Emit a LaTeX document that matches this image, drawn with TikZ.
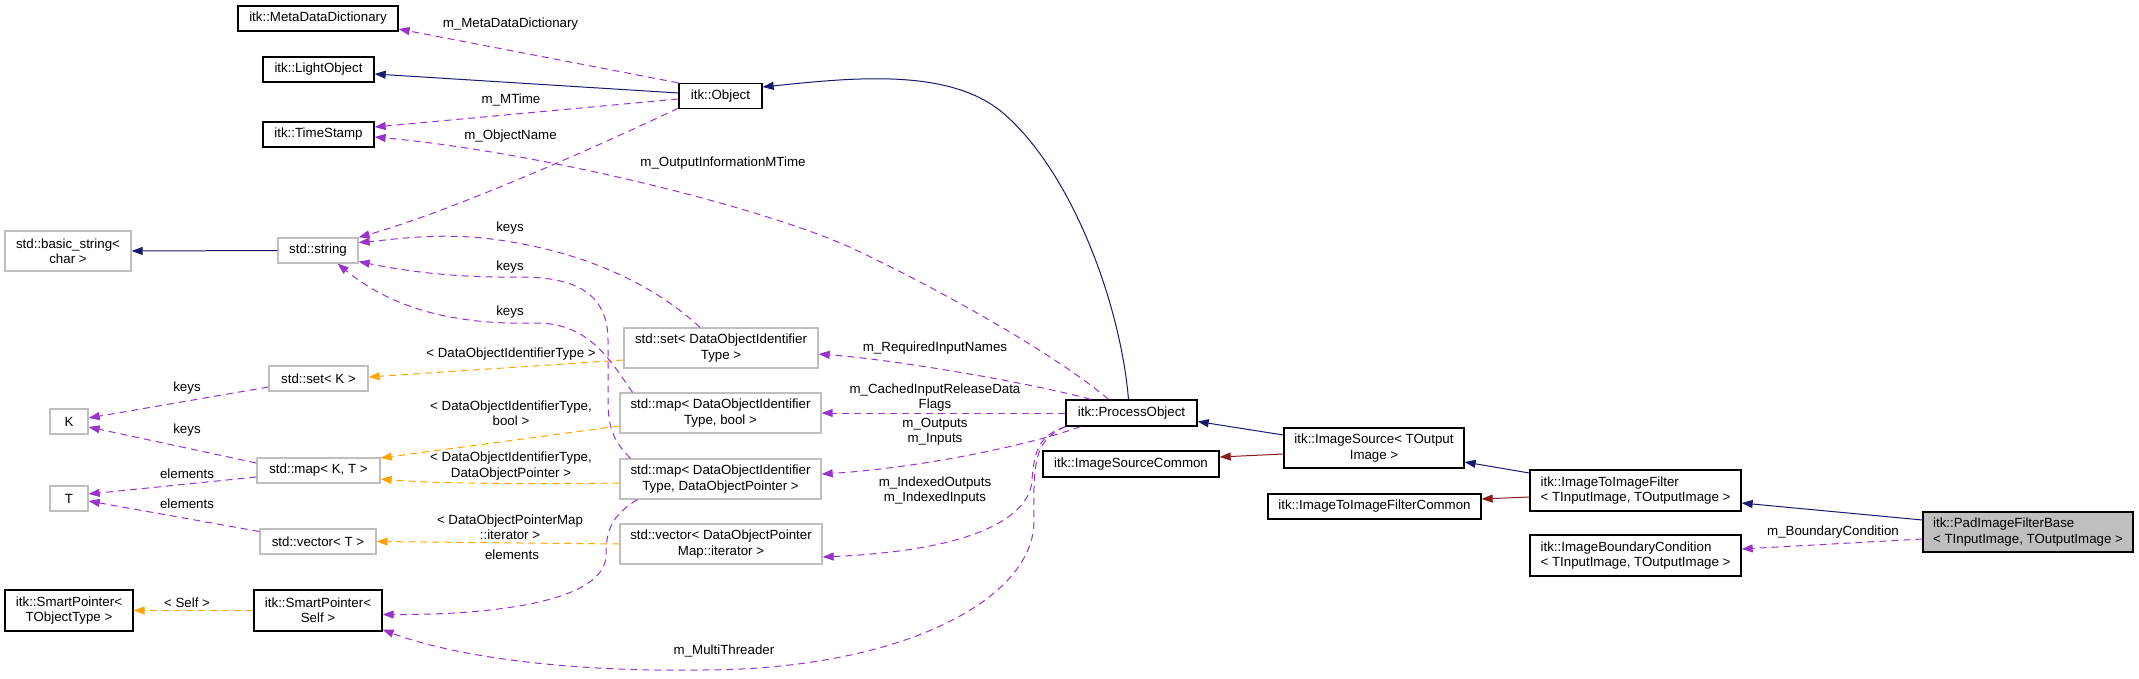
\documentclass[tikz,border=0pt]{standalone}
\usepackage{fontspec}
\setmainfont{Liberation Sans}
\usepackage{tikz}
\usetikzlibrary{arrows.meta}
\definecolor{navyedge}{HTML}{191970}
\definecolor{redge}{HTML}{8B1A1A}
\definecolor{purpedge}{HTML}{9A32CD}
\definecolor{orgedge}{HTML}{FFA500}
\definecolor{extgray}{HTML}{BFBFBF}

\begin{document}
\begin{tikzpicture}[x=1pt,y=-1pt,font=\fontsize{13.3}{15.2}\selectfont,
doc/.style n args={2}{draw=black,line width=1.3pt,fill=white,minimum width=#1pt,minimum height=#2pt,inner sep=0pt,align=center},
ext/.style n args={2}{doc={#1}{#2},draw=extgray},
inh/.style={navyedge,line width=1pt,-{Triangle[length=11pt,width=8pt]}},
prot/.style={inh,redge},
usage/.style={purpedge,line width=1pt,dash pattern=on 7pt off 5pt,-{Triangle[length=11pt,width=8pt]}},
tpl/.style={usage,orgedge},
lbl/.style={inner sep=0pt,align=center}]
\useasboundingbox (0,0) rectangle (2139,678);
\node[doc={160}{25}] (mdd) at (318,18.5) {itk::MetaDataDictionary};
\node[doc={111}{25}] (lobj) at (318.5,69.5) {itk::LightObject};
\node[doc={111}{25}] (tstamp) at (318.5,134.5) {itk::TimeStamp};
\node[doc={83}{25}] (obj) at (720.5,96) {itk::Object};
\node[ext={126}{40}] (bstr) at (68,251) {std::basic\_string<\\char >};
\node[ext={80}{25}] (str) at (318,250.5) {std::string};
\node[ext={99}{25}] (setk) at (318.5,378.5) {std::set< K >};
\node[ext={38}{25}] (kk) at (69,421.5) {K};
\node[ext={123}{25}] (mapkt) at (318.5,470.5) {std::map< K, T >};
\node[ext={38}{25}] (tt) at (69,498.5) {T};
\node[ext={116}{25}] (vect) at (318,541.5) {std::vector< T >};
\node[doc={128}{41}] (sptobj) at (69,610.5) {itk::SmartPointer<\\TObjectType >};
\node[doc={128}{41}] (spself) at (318,610.5) {itk::SmartPointer<\\Self >};
\node[ext={194}{40}] (setdoi) at (721,348) {std::set< DataObjectIdentifier\\Type >};
\node[ext={201}{40}] (mapbool) at (720.5,413) {std::map< DataObjectIdentifier\\Type, bool >};
\node[ext={201}{40}] (mapdop) at (720.5,479) {std::map< DataObjectIdentifier\\Type, DataObjectPointer >};
\node[ext={202}{40}] (vecdop) at (721,544) {std::vector< DataObjectPointer\\Map::iterator >};
\node[doc={131}{26}] (procobj) at (1131.5,413) {itk::ProcessObject};
\node[doc={176}{26}] (iscommon) at (1131,464) {itk::ImageSourceCommon};
\node[doc={180}{40}] (isrc) at (1374,448) {itk::ImageSource< TOutput\\Image >};
\node[doc={213}{25}] (itifcommon) at (1374.5,506.5) {itk::ImageToImageFilterCommon};
\node[doc={211}{41},align=left] (itif) at (1635.5,490.5) {itk::ImageToImageFilter\\< TInputImage, TOutputImage >};
\node[doc={211}{41},align=left] (ibc) at (1635.5,555.5) {itk::ImageBoundaryCondition\\< TInputImage, TOutputImage >};
\node[doc={210}{40},align=left,fill=extgray] (pad) at (2028,532) {itk::PadImageFilterBase\\< TInputImage, TOutputImage >};
% labels
\node[lbl] (lmdd) at (510.5,24) {m\_MetaDataDictionary};
\node[lbl] (lmtime) at (511,100) {m\_MTime};
\node[lbl] (lobjname) at (510.5,136) {m\_ObjectName};
\node[lbl] (loutinfo) at (723,163) {m\_OutputInformationMTime};
\node[lbl] (lkeysa) at (510,228) {keys};
\node[lbl] (lkeysb) at (510,267) {keys};
\node[lbl] (lkeysc) at (510,312) {keys};
\node[lbl] (ltplset) at (511,354) {< DataObjectIdentifierType >};
\node[lbl] (ltplbool) at (511,413) {< DataObjectIdentifierType,\\bool >};
\node[lbl] (ltpldop) at (511,466) {< DataObjectIdentifierType,\\DataObjectPointer >};
\node[lbl] (ltplvec) at (510,527) {< DataObjectPointerMap\\::iterator >};
\node[lbl] (lelem) at (512,555) {elements};
\node[lbl] (lkeysk) at (187,388) {keys};
\node[lbl] (lkeyskt) at (187,430) {keys};
\node[lbl] (lelemkt) at (187,474) {elements};
\node[lbl] (lelemvt) at (187,504) {elements};
\node[lbl] (lself) at (187,603) {< Self >};
\node[lbl] (lreq) at (935,348) {m\_RequiredInputNames};
\node[lbl] (lcached) at (935,397.5) {m\_CachedInputReleaseData\\Flags};
\node[lbl] (lio) at (935,431.5) {m\_Outputs\\m\_Inputs};
\node[lbl] (lidx) at (935,490.5) {m\_IndexedOutputs\\m\_IndexedInputs};
\node[lbl] (lmt) at (724,651) {m\_MultiThreader};
\node[lbl] (lbc) at (1833,532) {m\_BoundaryCondition};
% inheritance
\draw[inh] ([yshift=3pt]obj.west) -- ([yshift=-4.5pt]lobj.east);
\draw[inh] ([xshift=-3pt]procobj.north) .. controls (1120,300) and (1070,170) .. (1003,113)
   .. controls (949,67) and (850,78) .. ([yshift=9pt]obj.east);
\draw[inh] ([yshift=13pt]isrc.west) -- ([yshift=-8.5pt]procobj.east);
\draw[inh] ([yshift=17.5pt]itif.west) -- ([yshift=-14pt]isrc.east);
\draw[inh] ([yshift=12pt]pad.west) -- ([yshift=-12.5pt]itif.east);
\draw[inh] (str.west) -- (bstr.east);
\draw[prot] ([yshift=-6pt]isrc.west) -- ([yshift=7pt]iscommon.east);
\draw[prot] ([yshift=-6.5pt]itif.west) -- ([yshift=7.5pt]itifcommon.east);
% templates
\draw[tpl] ([yshift=-12pt]setdoi.west) -- ([yshift=1.5pt]setk.east);
\draw[tpl] ([yshift=-13pt]mapbool.west) -- ([yshift=12.5pt]mapkt.east);
\draw[tpl] ([yshift=-4pt]mapdop.west) .. controls (540,484) and (440,484) .. ([yshift=-8.5pt]mapkt.east);
\draw[tpl] (vecdop.west) -- (vect.east);
\draw[tpl] (spself.west) -- (sptobj.east);
% members
\draw[usage] ([yshift=-8.5pt]setk.west) -- ([yshift=3.5pt]kk.east);
\draw[usage] ([yshift=7.5pt]mapkt.west) -- ([yshift=-5.5pt]kk.east);
\draw[usage] ([yshift=-6.5pt]mapkt.west) -- ([yshift=4.5pt]tt.east);
\draw[usage] ([yshift=10pt]vect.west) -- ([yshift=-2.5pt]tt.east);
\draw[usage] (obj.north west) -- ([yshift=-10.5pt]mdd.east);
\draw[usage] ([yshift=-3pt]obj.west) -- ([yshift=7.5pt]tstamp.east);
\draw[usage] ([yshift=1pt]obj.south west) .. controls (605,143) and (455,210) .. (str.north east);
\draw[usage] ([xshift=-23pt]procobj.north) .. controls (1050,350) and (930,285) .. (856,250)
   .. controls (767,208) and (540,152) .. ([yshift=-2.5pt]tstamp.east);
\draw[usage] ([xshift=-41pt]procobj.north) .. controls (1040,385) and (900,360) .. ([yshift=-6pt]setdoi.east);
\draw[usage] (procobj.west) -- (mapbool.east);
\draw[usage] ([xshift=-51pt]procobj.south) .. controls (1030,445) and (920,468) .. ([yshift=5pt]mapdop.east);
\draw[usage] (procobj.south west) .. controls (1040,435) and (1034,450) .. (1032,480)
   .. controls (1030,515) and (980,550) .. ([yshift=-13pt]vecdop.east);
\draw[usage] (procobj.south west) .. controls (1035,440) and (1033,460) .. (1034,520)
   .. controls (1035,600) and (900,670) .. (700,670)
   .. controls (560,672) and (450,655) .. ([yshift=2pt]spself.south east);
\draw[usage] ([xshift=18pt]mapdop.south west) .. controls (612,515) and (606,530) .. (606,555)
   .. controls (606,600) and (500,615) .. ([yshift=-4pt]spself.east);
\draw[usage] ([yshift=-7pt]pad.west) -- ([yshift=6.5pt]ibc.east);
\draw[usage] ([xshift=-21pt]setdoi.north) .. controls (660,290) and (590,250) .. (483,238)
   .. controls (430,233) and (390,240) .. ([yshift=8pt]str.east);
\draw[usage] ([xshift=-90pt]mapdop.north) .. controls (612,440) and (608,425) .. (608,400) -- (608,340)
   .. controls (608,290) and (570,277) .. (520,277) .. controls (450,278) and (400,270) .. ([yshift=-11pt]str.east);
\draw[usage] ([xshift=-88pt]mapbool.north) .. controls (610,360) and (590,325) .. (540,323)
   .. controls (470,325) and (400,315) .. ([xshift=-21pt]str.south east);
\end{tikzpicture}
\end{document}
